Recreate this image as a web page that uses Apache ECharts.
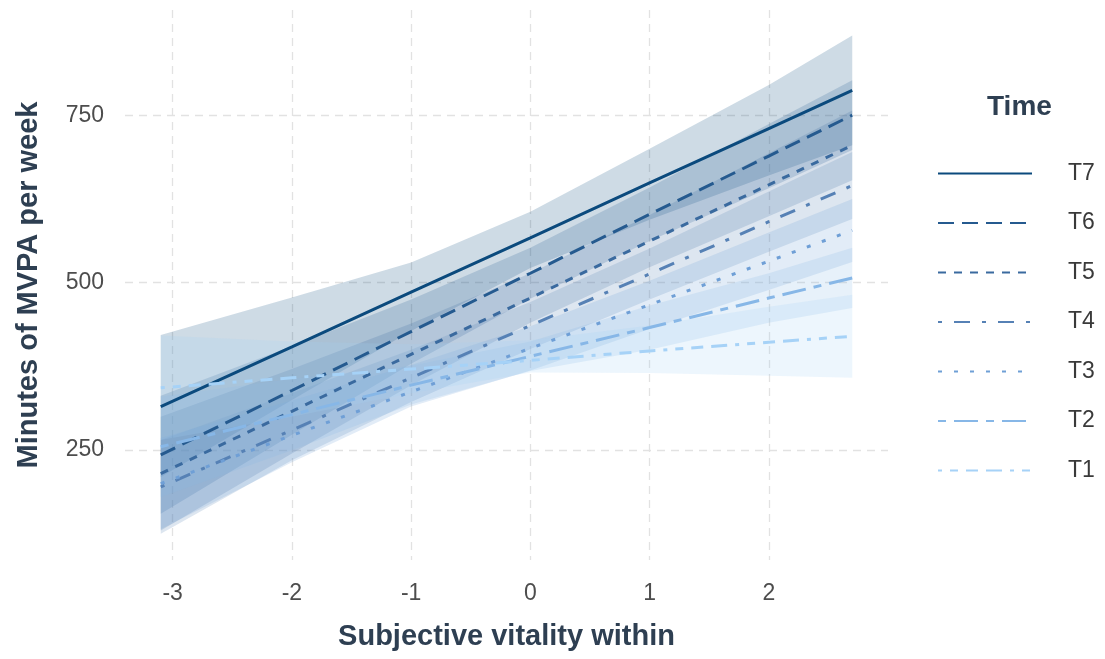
<!DOCTYPE html>
<html>
<head>
<meta charset="utf-8">
<script src="https://cdn.jsdelivr.net/npm/echarts@6/dist/echarts.min.js"></script>
<style>
  html, body { margin: 0; padding: 0; background: #ffffff; }
  #chart { width: 1105px; height: 659px; }
</style>
</head>
<body>
<div id="chart"></div>
<script>
// ---- data ----
const xVals = [-3.1, -2, -1, 0, 1, 2, 2.7];
const xTicks = [-3, -2, -1, 0, 1, 2];
const yTicks = [250, 500, 750];
const seriesNames = ['T7', 'T6', 'T5', 'T4', 'T3', 'T2', 'T1'];

const fitT7 = [315, 404, 486, 567, 649, 730, 787];
const fitT6 = [243, 339, 427, 514, 602, 689, 750];
const fitT5 = [215, 308, 393, 477, 562, 646, 705];
const fitT4 = [195, 280, 358, 436, 513, 591, 645];
const fitT3 = [200, 272, 337, 402, 467, 532, 578];
const fitT2 = [255, 303, 347, 390, 433, 477, 507];
const fitT1 = [343, 358, 371, 384, 398, 411, 420];

const loT7 = [210, 325, 428, 522, 594, 660, 705];
const hiT7 = [422, 478, 530, 606, 700, 795, 869];
const loT6 = [155, 273, 379, 476, 562, 641, 698];
const hiT6 = [331, 405, 475, 552, 642, 737, 802];
const loT5 = [130, 245, 347, 440, 523, 599, 653];
const hiT5 = [300, 371, 439, 514, 601, 693, 757];
const loT4 = [125, 235, 322, 401, 475, 546, 595];
const hiT4 = [265, 335, 400, 471, 551, 636, 695];
const loT3 = [132, 232, 315, 369, 431, 489, 531];
const hiT3 = [268, 324, 377, 435, 503, 575, 625];
const loT2 = [180, 250, 318, 368, 400, 440, 462];
const hiT2 = [330, 356, 376, 412, 466, 514, 552];
const loT1 = [265, 300, 335, 366, 365, 361, 358];
const hiT1 = [421, 412, 408, 414, 436, 464, 482];

// ---- styles ----
const colors = ['#0b4a7d', '#255a8f', '#3a6a9f', '#5681b5', '#6f9fd6', '#87b7e7', '#a6d2f7'];
const dashes = ['solid', [16, 8], [8, 8], [4, 12, 16, 12], [4, 12], [8, 8, 24, 8], [4, 8, 8, 8, 12, 8, 16, 8]];

const fits = [fitT7, fitT6, fitT5, fitT4, fitT3, fitT2, fitT1];
const los = [loT7, loT6, loT5, loT4, loT3, loT2, loT1];
const his = [hiT7, hiT6, hiT5, hiT4, hiT3, hiT2, hiT1];

function rgba(hex, a) {
  const n = parseInt(hex.slice(1), 16);
  return 'rgba(' + ((n >> 16) & 255) + ',' + ((n >> 8) & 255) + ',' + (n & 255) + ',' + a + ')';
}

const FONT = 'Liberation Sans, Arial, sans-serif';
const series = [];

// ribbons
seriesNames.forEach((name, k) => {
  const lo = los[k], hi = his[k];
  series.push({
    name: 'band ' + name,
    type: 'custom',
    silent: true,
    z: 1,
    data: [[xVals[0], lo[0]]],
    renderItem: function (params, api) {
      const pts = [];
      for (let i = 0; i < xVals.length; i++) pts.push(api.coord([xVals[i], hi[i]]));
      for (let i = xVals.length - 1; i >= 0; i--) pts.push(api.coord([xVals[i], lo[i]]));
      return {
        type: 'polygon',
        shape: { points: pts },
        style: { fill: rgba(colors[k], 0.2), stroke: null }
      };
    }
  });
});

// lines
seriesNames.forEach((name, k) => {
  series.push({
    name: name,
    type: 'line',
    z: 3,
    symbol: 'none',
    showSymbol: false,
    silent: true,
    data: xVals.map((x, i) => [x, fits[k][i]]),
    lineStyle: { color: colors[k], width: 3, type: dashes[k] },
    itemStyle: { color: colors[k] }
  });
});

const chart = echarts.init(document.getElementById('chart'), null, { renderer: 'canvas' });
chart.setOption({
  animation: false,
  backgroundColor: '#ffffff',
  grid: { left: 125, right: 217, top: 10, bottom: 99, containLabel: false, outerBoundsMode: 'none' },
  xAxis: {
    type: 'value',
    min: -3.4, max: 3.0,
    name: 'Subjective vitality within',
    nameLocation: 'middle',
    nameGap: 62,
    nameTextStyle: { fontFamily: FONT, fontSize: 29, fontWeight: 'bold', color: '#2e3f52' },
    axisLine: { show: false },
    axisTick: { show: false, customValues: xTicks },
    axisLabel: { customValues: xTicks, fontFamily: FONT, fontSize: 23, color: '#4d4d4d', margin: 22 },
    splitLine: { show: true, lineStyle: { color: '#e2e2e2', width: 1.3, type: [8, 6] } }
  },
  yAxis: {
    type: 'value',
    min: 86, max: 907,
    name: 'Minutes of MVPA per week',
    nameLocation: 'middle',
    nameGap: 82,
    nameRotate: 90,
    nameTextStyle: { fontFamily: FONT, fontSize: 29, fontWeight: 'bold', color: '#2e3f52' },
    axisLine: { show: false },
    axisTick: { show: false, customValues: yTicks },
    axisLabel: { customValues: yTicks, fontFamily: FONT, fontSize: 23, color: '#4d4d4d', margin: 21 },
    splitLine: { show: true, lineStyle: { color: '#e2e2e2', width: 1.3, type: [8, 6] } }
  },
  legend: {
    data: seriesNames,
    orient: 'vertical',
    left: 932,
    top: 157,
    itemWidth: 94,
    itemHeight: 22,
    itemGap: 26.5,
    selectedMode: false,
    itemStyle: { opacity: 0 },
    textStyle: { fontFamily: FONT, fontSize: 23, color: '#3a3a3a', padding: [0, 0, 0, 31], lineHeight: 22 }
  },
  graphic: [{
    type: 'text',
    left: 987,
    top: 93,
    style: { text: 'Time', font: 'bold 28px ' + FONT, fill: '#2e3f52' }
  }],
  series: series
});
</script>
</body>
</html>
